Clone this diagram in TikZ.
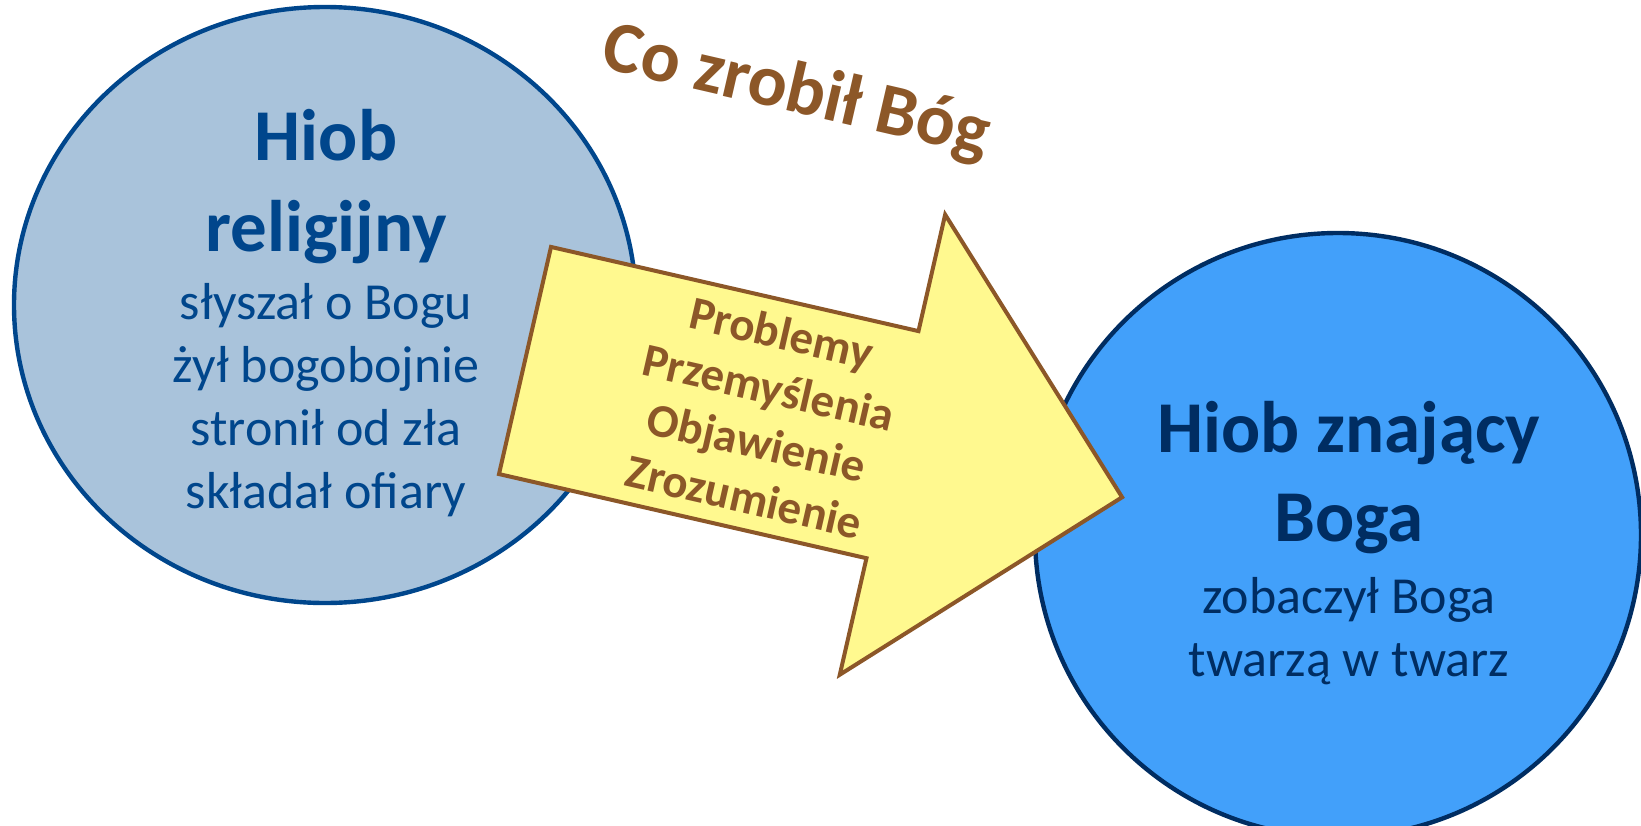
\documentclass[tikz,border=0pt]{standalone}
\usepackage{fontspec}
\setmainfont{Carlito}
\usepackage{tikz}
\usetikzlibrary{shapes.geometric,positioning}

\definecolor{oldfill}{HTML}{A9C3DB}
\definecolor{olddark}{HTML}{00468C}
\definecolor{newfill}{HTML}{42A0FA}
\definecolor{newdark}{HTML}{002D62}
\definecolor{arrowfill}{HTML}{FFF98F}
\definecolor{arrowbrown}{HTML}{8C5728}

\tikzset{
  job/.style={ellipse, draw, line width=4.4pt, inner sep=0pt},
  bigline/.style={anchor=base, font=\fontsize{73}{88}\selectfont\bfseries},
  smallline/.style={anchor=base, font=\fontsize{52}{63}\selectfont},
  steptxt/.style={anchor=base, font=\fontsize{47}{57}\selectfont\bfseries, text=arrowbrown},
}

\begin{document}
\begin{tikzpicture}[x=1pt,y=-1pt]
    \useasboundingbox (0,0) rectangle (1641,825);

    % Left circle
    \node [job, fill=oldfill, draw=olddark, minimum width=622pt, minimum height=596pt] (relig) at (325,305) {};
    \node [bigline, text=olddark] (religA) at (326,160) {Hiob};
    \node [bigline, text=olddark] (religB) at (326,251) {religijny};
    \foreach \i/\txt in {0/słyszał o Bogu, 1/żył bogobojnie, 2/stronił od zła, 3/składał ofiary} {
        \node [smallline, text=olddark] (relig\i) at (326, 319+\i*63) {\txt};
    }

    % Right circle
    \node [job, fill=newfill, draw=newdark, minimum width=606pt, minimum height=604pt] (know) at (1338,535) {};
    \node [bigline, text=newdark] (knowA) at (1349,452) {Hiob znający};
    \node [bigline, text=newdark] (knowB) at (1349,541) {Boga};
    \foreach \i/\txt in {0/zobaczył Boga, 1/twarzą w twarz} {
        \node [smallline, text=newdark] (know\i) at (1349, 613+\i*63) {\txt};
    }

    % Big arrow between them
    \begin{scope}[shift={(525,360.5)}, rotate=-12.9, transform shape]
        \draw [line width=4pt, draw=arrowbrown, fill=arrowfill] (0,-116.5) -- (377,-116.5) -- (377,-236) -- (612.6,0) -- (377,236) -- (377,116.5) -- (0,116.5) -- cycle;
        \foreach \i/\txt in {0/Problemy, 1/Przemyślenia, 2/Objawienie, 3/Zrozumienie} {
            \node [steptxt] (step\i) at (244, -68+\i*56) {\txt};
        }
    \end{scope}

    % Title over the arrow
    \node [bigline, text=arrowbrown, rotate=-13] (title) at (792,112) {Co zrobił Bóg};
\end{tikzpicture}
\end{document}
